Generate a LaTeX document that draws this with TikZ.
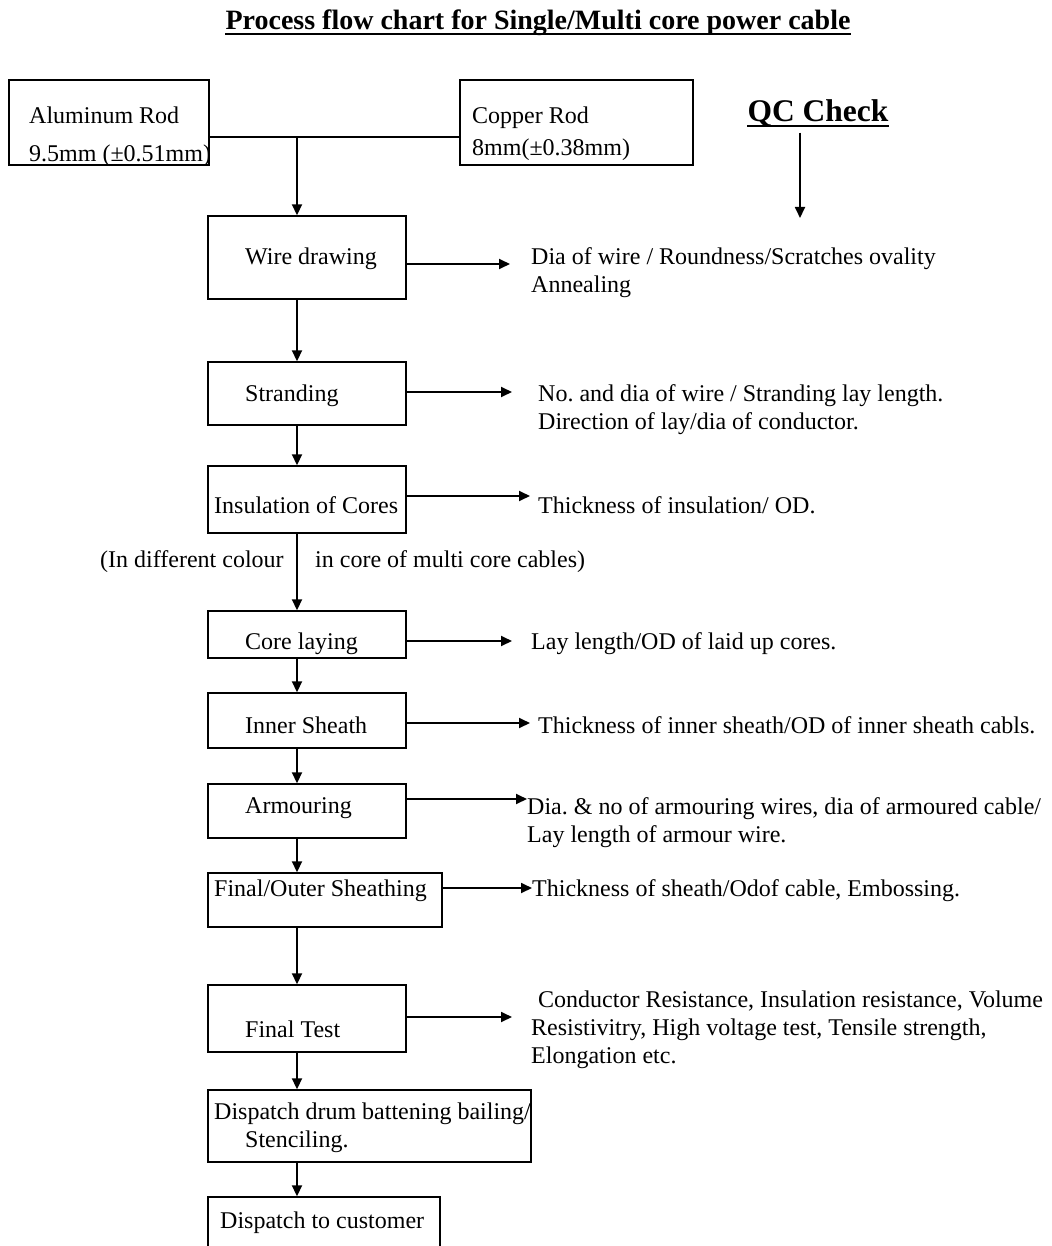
\documentclass[tikz,border=0pt]{standalone}
\usepackage{fontspec}
\setmainfont{Liberation Serif}
\usetikzlibrary{arrows.meta,fit}
\frenchspacing
\begin{document}
\begin{tikzpicture}[x=1pt,y=-1pt,
  box/.style={draw, line width=1.4pt, inner sep=0pt},
  arr/.style={line width=1.8pt, -{Triangle[length=11pt,width=10pt]}},
  link/.style={line width=1.8pt},
  txt/.style={inner sep=0pt, anchor=west, align=left, yshift=-2.5pt, font=\fontsize{24}{28}\selectfont},
  qcnote/.style={txt}
]
\useasboundingbox (0,0) rectangle (1051,1246);
\clip (0,0) rectangle (1051,1246);

% title and QC heading
\node[inner sep=0pt, font=\fontsize{28}{32}\bfseries] (title) at (538,23) {Process flow chart for Single/Multi core power cable};
\draw[line width=1.6pt] ([yshift=-4pt]title.base west) -- ([yshift=-4pt]title.base east);
\node[inner sep=0pt, font=\fontsize{31.5}{36}\bfseries] (qc) at (818,113) {QC Check};
\draw[line width=1.8pt] ([yshift=-5pt]qc.base west) -- ([yshift=-5pt]qc.base east);

% process boxes
\node[box, fit={(9,80) (209,165)}] (al) {};
\node[box, fit={(460,80) (693,165)}] (cu) {};
\node[box, fit={(208,216) (406,299)}] (wd) {};
\node[box, fit={(208,362) (406,425)}] (st) {};
\node[box, fit={(208,466) (406,533)}] (ins) {};
\node[box, fit={(208,611) (406,658)}] (cl) {};
\node[box, fit={(208,693) (406,748)}] (is) {};
\node[box, fit={(208,784) (406,838)}] (ar) {};
\node[box, fit={(208,873) (442,927)}] (fs) {};
\node[box, fit={(208,985) (406,1052)}] (ft) {};
\node[box, fit={(208,1090) (531,1162)}] (dd) {};
\node[box, fit={(208,1197) (440,1270)}] (dc) {};

% box texts
\node[txt] (alt) at (29,134) {Aluminum Rod\\[10pt]9.5mm (±0.51mm)};
\node[txt] (cut) at (472,131) {Copper Rod\\[4pt]8mm(±0.38mm)};
\node[txt] (wdt) at (245,256) {Wire drawing};
\node[txt] (stt) at (245,393) {Stranding};
\node[txt] (inst) at (214,503) {Insulation of Cores};
\node[txt] (clt) at (245,641) {Core laying};
\node[txt] (ist) at (245,723) {Inner Sheath};
\node[txt] (art) at (245,806) {Armouring};
\node[txt] (fst) at (214,888) {Final/Outer Sheathing};
\node[txt] (ftt) at (245,1027) {Final Test};
\node[txt] (ddt) at (214,1125) {Dispatch drum battening bailing/\\\hspace{31pt}Stenciling.};
\node[txt] (dct) at (220,1220) {Dispatch to customer};

% note on the insulation arrow
\node[txt] (nl) at (100,559) {(In different colour};
\node[txt] (nr) at (315,559) {in core of multi core cables)};

% QC notes
\node[qcnote] (qwd) at (531,270) {Dia of wire / Roundness/Scratches ovality\\Annealing};
\node[qcnote] (qst) at (538,407) {No. and dia of wire / Stranding lay length.\\Direction of lay/dia of conductor.};
\node[qcnote] (qins) at (538,503) {Thickness of insulation/ OD.};
\node[qcnote] (qcl) at (531,641) {Lay length/OD of laid up cores.};
\node[qcnote] (qis) at (538,723) {Thickness of inner sheath/OD of inner sheath cabls.};
\node[qcnote] (qar) at (527,820) {Dia. \& no of armouring wires, dia of armoured cable/\\Lay length of armour wire.};
\node[qcnote] (qfs) at (532,888) {Thickness of sheath/Odof cable, Embossing.};
\node[qcnote] (qft) at (531,1027) {\hspace{7pt}Conductor Resistance, Insulation resistance, Volume\\Resistivitry, High voltage test, Tensile strength,\\Elongation etc.};

% helper coordinates
\coordinate (joint) at (297,137);
\coordinate (spine) at (297,0);
\coordinate (qctip) at (800,218);

% rod feed
\draw[link] (al.east |- joint) -- (cu.west |- joint);
\draw[arr] (joint) -- (wd.north -| joint);
\draw[arr] (qc.south -| qctip) ++(0,6) -- (qctip);

% main process chain
\draw[arr] (wd.south -| spine) -- (st.north -| spine);
\draw[arr] (st.south -| spine) -- (ins.north -| spine);
\draw[arr] (ins.south -| spine) -- (cl.north -| spine);
\draw[arr] (cl.south -| spine) -- (is.north -| spine);
\draw[arr] (is.south -| spine) -- (ar.north -| spine);
\draw[arr] (ar.south -| spine) -- (fs.north -| spine);
\draw[arr] (fs.south -| spine) -- (ft.north -| spine);
\draw[arr] (ft.south -| spine) -- (dd.north -| spine);
\draw[arr] (dd.south -| spine) -- (dc.north -| spine);

% checks
\draw[arr] (wd.east |- 0,264) -- (510,264);
\draw[arr] (st.east |- 0,392) -- (512,392);
\draw[arr] (ins.east |- 0,496) -- (530,496);
\draw[arr] (cl.east |- 0,641) -- (512,641);
\draw[arr] (is.east |- 0,723) -- (530,723);
\draw[arr] (ar.east |- 0,799) -- (527,799);
\draw[arr] (fs.east |- 0,888) -- (532,888);
\draw[arr] (ft.east |- 0,1017) -- (512,1017);
\end{tikzpicture}
\end{document}
